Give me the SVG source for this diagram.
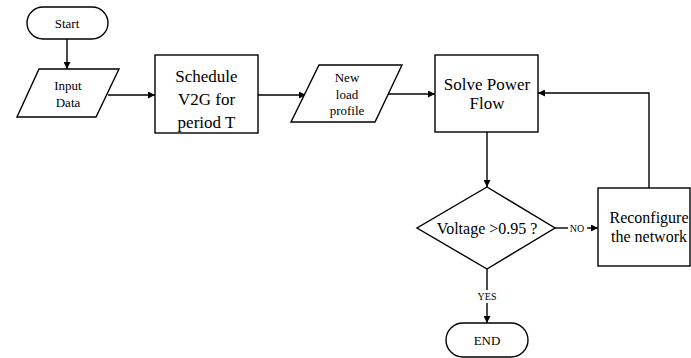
<svg xmlns="http://www.w3.org/2000/svg" width="691" height="358" viewBox="0 0 691 358">
<defs>
<marker id="ah" viewBox="0 0 10 10" refX="10" refY="5" markerWidth="7" markerHeight="7" markerUnits="userSpaceOnUse" orient="auto">
<path d="M0,0 L10,5 L0,10 z" fill="#000"/>
</marker>
</defs>
<style>
.s{fill:#fff;stroke:#000;stroke-width:1.4}
.c{fill:none;stroke:#000;stroke-width:1.4;marker-end:url(#ah)}
.l{fill:none;stroke:#000;stroke-width:1.4}
text{font-family:"Liberation Serif","Times New Roman",serif;fill:#000;text-anchor:middle}
.sm{font-size:13px}
.md{font-size:17px}
.lb{font-size:10px}
</style>
<rect width="691" height="358" fill="#fff"/>
<g id="connectors">
<line class="c" x1="67" y1="39" x2="67" y2="69"/>
<line class="c" x1="108" y1="95" x2="155" y2="95"/>
<line class="c" x1="258" y1="95" x2="306" y2="95"/>
<line class="c" x1="388" y1="94" x2="435" y2="94"/>
<line class="c" x1="487" y1="132" x2="487" y2="187"/>
<polyline class="c" points="649,188 649,93 538,93"/>
<line class="l" x1="555" y1="228" x2="568" y2="228"/>
<line class="c" x1="587" y1="228" x2="598" y2="228"/>
<text class="lb" x="577" y="231.5">NO</text>
<line class="l" x1="487" y1="269" x2="487" y2="290"/>
<line class="c" x1="487" y1="303" x2="487" y2="323"/>
<text class="lb" x="487" y="300">YES</text>
</g>
<g id="start">
<rect class="s" x="27" y="7" width="81" height="32" rx="16"/>
<text class="sm" x="67" y="27.5">Start</text>
</g>
<g id="input">
<polygon class="s" points="39,69 119,69 96,117 17,117"/>
<text class="sm" x="68" y="90">Input</text>
<text class="sm" x="68" y="107">Data</text>
</g>
<g id="schedule">
<rect class="s" x="155" y="55" width="103" height="78"/>
<text class="md" x="206.5" y="82">Schedule</text>
<text class="md" x="206.5" y="105">V2G for</text>
<text class="md" x="206.5" y="128">period T</text>
</g>
<g id="newload">
<polygon class="s" points="319,65 402,65 375,122 291,122"/>
<text class="sm" x="347" y="82">New</text>
<text class="sm" x="347" y="98.5">load</text>
<text class="sm" x="347" y="115">profile</text>
</g>
<g id="solve">
<rect class="s" x="435" y="55" width="103" height="77"/>
<text class="md" x="487" y="90">Solve Power</text>
<text class="md" x="487" y="109">Flow</text>
</g>
<g id="decision">
<polygon class="s" points="487,187 555,228 487,269 417,228"/>
<text x="487" y="233.5" font-size="16">Voltage &gt;0.95 ?</text>
</g>
<g id="reconfigure">
<rect class="s" x="598" y="188" width="92" height="78"/>
<text x="649" y="223" font-size="16">Reconfigure</text>
<text x="649" y="242" font-size="16">the network</text>
</g>
<g id="end">
<rect class="s" x="446" y="323" width="82" height="34" rx="17"/>
<text class="sm" x="487" y="344.5">END</text>
</g>
</svg>
